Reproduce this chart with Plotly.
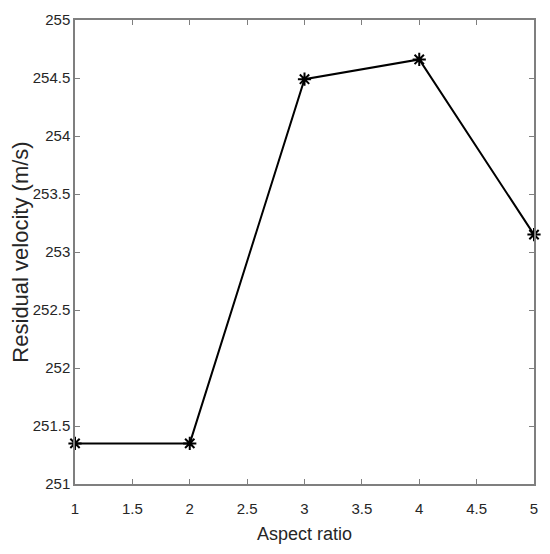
import plotly.graph_objects as go

aspect_ratio = [1, 2, 3, 4, 5]
residual_velocity = [251.35, 251.35, 254.49, 254.66, 253.15]

x_ticks = [1, 1.5, 2, 2.5, 3, 3.5, 4, 4.5, 5]
y_ticks = [251, 251.5, 252, 252.5, 253, 253.5, 254, 254.5, 255]

font_family = "Liberation Sans, Arial"
text_color = "#262626"

fig = go.Figure()
fig.add_trace(go.Scatter(
    x=aspect_ratio, y=residual_velocity, mode="lines+markers",
    line=dict(color="black", width=2),
    marker=dict(symbol="asterisk-open", size=11, color="black",
                line=dict(color="black", width=2)),
    showlegend=False, cliponaxis=False,
))

axis_common = dict(
    showline=True, linecolor="#7f7f7f", linewidth=1.5, mirror="ticks",
    ticks="inside", ticklen=5, tickcolor="#7f7f7f", tickwidth=1,
    showgrid=False, zeroline=False, automargin=False,
    tickfont=dict(family=font_family, size=15, color=text_color),
)

fig.update_xaxes(range=[1, 5], tickvals=x_ticks, ticktext=[f"{v:g}" for v in x_ticks],
                 ticklabelstandoff=10,
                 title=dict(text="Aspect ratio", font=dict(size=18, color=text_color), standoff=12),
                 **axis_common)
fig.update_yaxes(range=[251, 255], tickvals=y_ticks, ticktext=[f"{v:g}" for v in y_ticks],
                 title=dict(text="Residual velocity (m/s)", font=dict(size=22, color=text_color), standoff=2),
                 **axis_common)

# the page body adds an 8px margin, so the figure is sized to fit inside it
fig.update_layout(
    width=534, height=538,
    margin=dict(l=67, r=8, t=12, b=62),
    plot_bgcolor="white", paper_bgcolor="white",
    font=dict(family=font_family, color=text_color),
)

fig.write_html("out.html")
